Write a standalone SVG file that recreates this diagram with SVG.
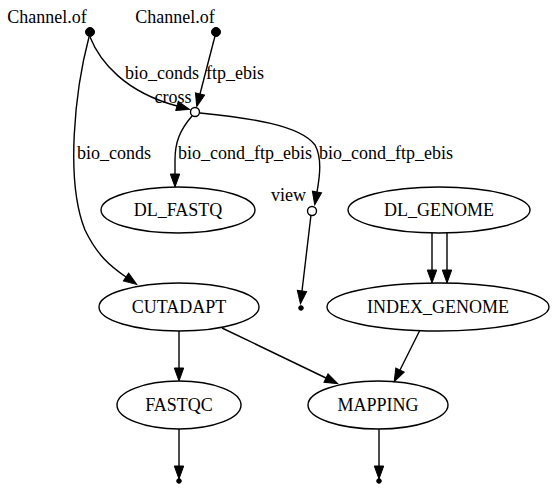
<svg xmlns="http://www.w3.org/2000/svg" width="557" height="489" viewBox="0 0 557 489">
<style>
text{font-family:'Liberation Serif',Tinos,'Times New Roman',Times,'DejaVu Serif',serif;font-size:18px;fill:#000}
.n ellipse{fill:none;stroke:#000;stroke-width:1.4}
.e path,.e line{fill:none;stroke:#000;stroke-width:1.4}
.pt{fill:#000;stroke:#000}
.op{fill:#fff;stroke:#000;stroke-width:1.4}
</style>
<defs>
<marker id="ah" markerUnits="userSpaceOnUse" markerWidth="14" markerHeight="10" refX="0" refY="4.7" orient="auto" overflow="visible">
<path d="M0,0 L13,4.7 L0,9.4 z" fill="#000" stroke="#000" stroke-width="1"/>
</marker>
</defs>
<rect width="557" height="489" fill="#fff"/>
<g class="e" id="edges">
<path d="M90,37 C100,62 125,92 177,106" marker-end="url(#ah)"/>
<line x1="215" y1="36" x2="200" y2="94" marker-end="url(#ah)"/>
<path d="M89,37 C75,90 65,180 85,230 C97,255 110,266 126,277" marker-end="url(#ah)"/>
<path d="M192,116 C180,130 175,142 175,160 L175,174" marker-end="url(#ah)"/>
<path d="M200,113 C250,118 300,125 315,145 C322,158 320,175 317,192" marker-end="url(#ah)"/>
<line x1="311" y1="215" x2="302" y2="291" marker-end="url(#ah)"/>
<line x1="432" y1="233" x2="432" y2="270" marker-end="url(#ah)"/>
<line x1="447" y1="233" x2="447" y2="270" marker-end="url(#ah)"/>
<line x1="179" y1="331" x2="179" y2="368" marker-end="url(#ah)"/>
<line x1="222" y1="328" x2="326" y2="378" marker-end="url(#ah)"/>
<line x1="420" y1="330" x2="400" y2="370" marker-end="url(#ah)"/>
<line x1="179" y1="429" x2="179" y2="466" marker-end="url(#ah)"/>
<line x1="379" y1="429" x2="379" y2="466" marker-end="url(#ah)"/>
</g>
<g id="ch1"><circle class="pt" cx="90" cy="32" r="4.5"/><text x="47" y="23" text-anchor="middle" font-family="Liberation Serif, serif">Channel.of</text></g>
<g id="ch2"><circle class="pt" cx="216" cy="32" r="4.5"/><text x="175" y="23" text-anchor="middle">Channel.of</text></g>
<g id="cross"><circle class="op" cx="195" cy="112" r="4.5"/><text x="173" y="103" text-anchor="middle">cross</text></g>
<g id="view"><circle class="op" cx="312" cy="211" r="4.5"/><text x="306" y="201" text-anchor="end">view</text></g>
<g id="end1"><circle class="pt" cx="301" cy="308" r="2.3"/></g>
<g id="end2"><circle class="pt" cx="179" cy="481" r="2.3"/></g>
<g id="end3"><circle class="pt" cx="379" cy="481" r="2.3"/></g>
<g id="labels">
<text x="162" y="79" text-anchor="middle">bio_conds</text>
<text x="235" y="79" text-anchor="middle">ftp_ebis</text>
<text x="114" y="159" text-anchor="middle">bio_conds</text>
<text x="245" y="159" text-anchor="middle">bio_cond_ftp_ebis</text>
<text x="386" y="159" text-anchor="middle">bio_cond_ftp_ebis</text>
</g>
<g class="n" id="DL_FASTQ"><ellipse cx="178" cy="210" rx="77" ry="23"/><text x="178" y="216" text-anchor="middle">DL_FASTQ</text></g>
<g class="n" id="DL_GENOME"><ellipse cx="439" cy="210" rx="91" ry="23"/><text x="439" y="216" text-anchor="middle">DL_GENOME</text></g>
<g class="n" id="CUTADAPT"><ellipse cx="179" cy="307" rx="80" ry="24"/><text x="179" y="313" text-anchor="middle">CUTADAPT</text></g>
<g class="n" id="INDEX_GENOME"><ellipse cx="438" cy="307" rx="111" ry="24"/><text x="438" y="313" text-anchor="middle">INDEX_GENOME</text></g>
<g class="n" id="FASTQC"><ellipse cx="179" cy="405" rx="62" ry="24"/><text x="179" y="411" text-anchor="middle">FASTQC</text></g>
<g class="n" id="MAPPING"><ellipse cx="378" cy="405" rx="70" ry="24"/><text x="378" y="411" text-anchor="middle">MAPPING</text></g>
</svg>
